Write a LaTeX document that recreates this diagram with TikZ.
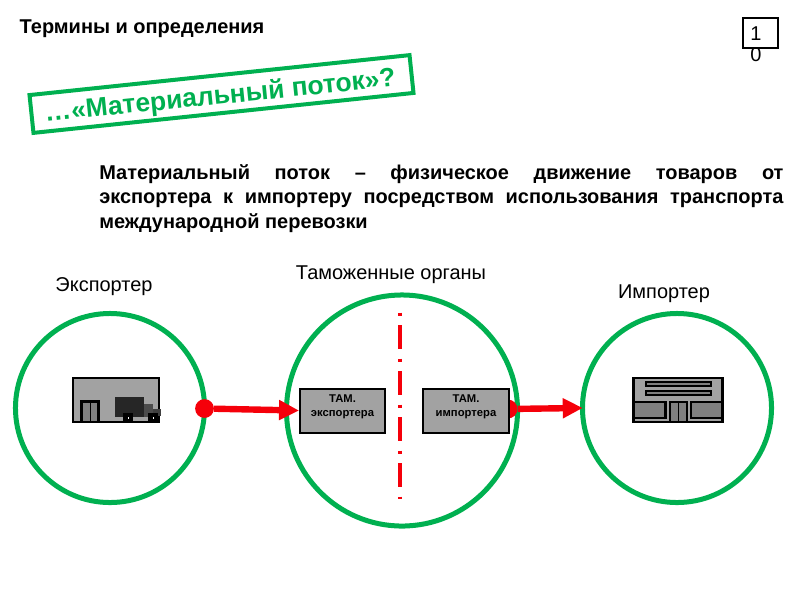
\documentclass[tikz,border=0pt]{standalone}
\usepackage{fontspec}
\setmainfont{Liberation Sans}
\usetikzlibrary{arrows.meta}
\definecolor{zone}{RGB}{0,176,80}
\definecolor{flow}{RGB}{245,0,10}
\definecolor{plate}{RGB}{162,162,162}
\definecolor{panel}{RGB}{128,128,128}
\tikzset{
  zonecircle/.style={draw=zone,line width=0.125cm,circle,inner sep=0pt},
  flowdot/.style={fill=flow,circle,inner sep=0pt,minimum size=0.47cm},
  flowarrow/.style={draw=flow,line width=0.16cm,-{Triangle[length=0.5cm,width=0.475cm]}},
  tambox/.style={draw=black,fill=plate,line width=0.05cm,inner sep=0pt,
    minimum width=2.125cm,minimum height=1.1cm,align=center,
    font=\fontsize{8}{10}\selectfont\bfseries},
  caption/.style={inner sep=0pt,font=\fontsize{14.2}{17}\selectfont},
  iconline/.style={draw=black,line width=0.06cm},
}
\begin{document}
\begin{tikzpicture}[x=0.025cm,y=-0.025cm]
  \useasboundingbox (0,0) rectangle (800,600);

  \node[inner sep=0pt,font=\fontsize{14.2}{17}\selectfont\bfseries] (heading) at (142,29) {Термины и определения};
  \node[draw=black,line width=0.05cm,inner sep=0pt,minimum width=0.875cm,minimum height=0.76cm] (pagebox) at (760.5,33) {};
  \node[inner sep=0pt,align=left,anchor=north west,font=\fontsize{14.2}{15}\selectfont] (pagenum) at (750,26) {1\\0};
  \node[draw=zone,line width=0.1cm,rotate=6,inner sep=0pt,minimum width=9.55cm,minimum height=0.95cm] (questionbox) at (221.5,94) {};
  \node[text=zone,rotate=5.8,inner sep=0pt,anchor=base,font=\fontsize{18.8}{22}\selectfont\bfseries] (question) at (221,104) {…«Материальный поток»?};

  \node[anchor=north west,inner sep=0pt,text width=17.1cm,align=justify,
        font=\fontsize{14.2}{17.4}\selectfont\bfseries] (definition) at (99,164) {
    Материальный поток – физическое движение товаров от\linebreak
    экспортера к импортеру посредством использования транспорта\linebreak
    международной перевозки
  };

  \node[caption] (exportlabel) at (104,287) {Экспортер};
  \node[caption] (customslabel) at (391,275) {Таможенные органы};
  \node[caption] (importlabel) at (664,294) {Импортер};

  \node[zonecircle,minimum size=4.725cm] (exporter) at (110,408) {};
  \node[zonecircle,minimum size=5.775cm] (customs) at (402,410.5) {};
  \node[zonecircle,minimum size=4.725cm] (importer) at (677,408) {};

  \coordinate (bordertop) at (400,312.5);
  \coordinate (borderbottom) at (400,498.5);
  \draw[flow,line width=0.09cm,dash pattern=on 2.5pt off 6.5pt on 17pt off 6.73pt] (bordertop) -- (borderbottom);

  \node[flowdot] (dotimport) at (508,409) {};
  \draw[flowarrow,shorten >=-0.07cm] (dotimport) -- (importer.west);
  \node[tambox] (tamexport) at (342.5,410.5) {ТАМ.\\экспортера\\[-3.5pt]};
  \node[tambox] (tamimport) at (466,410.5) {ТАМ.\\импортера\\[-3.5pt]};
  \node[flowdot] (dotexport) at (204.5,408.5) {};
  \draw[flowarrow] (dotexport) -- (tamexport.west);

  \draw[iconline,fill=plate] (73,378) rectangle (159,422);
  \draw[iconline,fill=panel] (81.5,401.5) rectangle (98.5,422);
  \draw[black,line width=0.025cm] (90,401.5) -- (90,422);
  \fill[black!85] (115,397) rectangle (144,417);
  \fill[black!70] (144,404) rectangle (153,417);
  \fill[black!75] (153,409) rectangle (161,416);
  \fill[black] (123,413) rectangle (133,422);
  \fill[black] (148,413) rectangle (158,422);
  \fill[white] (127.5,417) rectangle (128.5,418.5);
  \fill[white] (152.5,417) rectangle (153.5,418.5);

  \draw[iconline,fill=plate] (633.5,378) rectangle (722.5,422);
  \draw[iconline,fill=panel] (646,382) rectangle (711,386);
  \draw[iconline,fill=panel] (646,391) rectangle (711,395);
  \draw[iconline,fill=panel] (633.5,402) rectangle (665.5,418);
  \draw[iconline,fill=panel] (691,402) rectangle (722.5,418);
  \draw[iconline,fill=panel] (670,402) rectangle (687,422);
  \draw[black,line width=0.025cm] (678.5,402) -- (678.5,422);
\end{tikzpicture}
\end{document}
